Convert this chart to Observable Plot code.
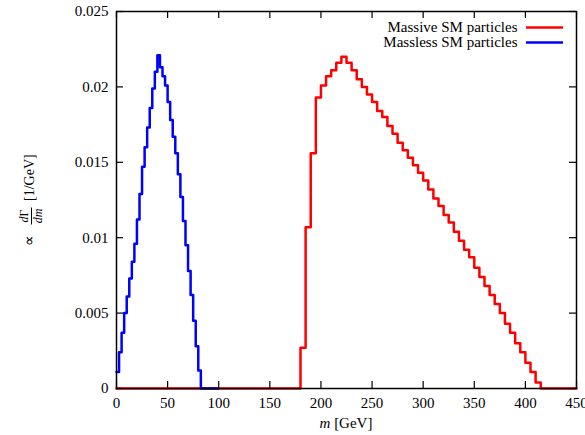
<!DOCTYPE html>
<html><head><meta charset="utf-8">
<script src="https://cdn.jsdelivr.net/npm/d3@7"></script>
<script src="https://cdn.jsdelivr.net/npm/@observablehq/plot@0.6"></script>
<style>
body{margin:0;background:#fff}
#chart svg text, #chart svg tspan { font-family: "Liberation Serif", "Times New Roman", serif !important; }
</style>
</head><body><div id="chart"></div>
<script>
const seriesNames = ["Massive SM particles", "Massless SM particles"];
const seriesColors = ["#ff0000", "#0000ff"];

// Massive SM particles: 5 GeV bins starting at 180 GeV
const massiveStart = 180, massiveBinWidth = 5;
const massiveValues = [
  0.0027, 0.0107, 0.0156, 0.0193, 0.0201, 0.0207, 0.0211, 0.0216, 0.0220, 0.0216,
  0.0211, 0.0205, 0.0200, 0.0195, 0.0190, 0.0184, 0.0180, 0.0174, 0.0169, 0.0163,
  0.0158, 0.0153, 0.0148, 0.0143, 0.0138, 0.0132, 0.0126, 0.0121, 0.0115, 0.0110,
  0.0104, 0.0098, 0.0092, 0.0087, 0.0080, 0.0074, 0.0068, 0.0062, 0.0056, 0.0050,
  0.0043, 0.0037, 0.0030, 0.0024, 0.0017, 0.0011, 0.0004
];
const massiveRange = [0, 450];

// Massless SM particles: 2.5 GeV bins starting at 0 GeV
const masslessStart = 0, masslessBinWidth = 2.5;
const masslessValues = [
  0.0011, 0.0024, 0.0037, 0.0050, 0.0061, 0.0073, 0.0084, 0.0096, 0.0112, 0.0129,
  0.0147, 0.0160, 0.0173, 0.0186, 0.0199, 0.0210, 0.0221, 0.0213, 0.0207, 0.0201,
  0.0190, 0.0178, 0.0167, 0.0156, 0.0142, 0.0127, 0.0111, 0.0095, 0.0078, 0.0062,
  0.0045, 0.0028, 0.0012
];
const masslessRange = [0, 100];

const xTicks = [0, 50, 100, 150, 200, 250, 300, 350, 400, 450];
const yTicks = [0, 0.005, 0.01, 0.015, 0.02, 0.025];
const yTickLabels = ["0", "0.005", "0.01", "0.015", "0.02", "0.025"];

function steps(start, w, values, range) {
  const pts = [];
  if (range[0] < start) pts.push({x: range[0], y: 0});
  values.forEach((v, i) => pts.push({x: start + i * w, y: v}));
  pts.push({x: start + values.length * w, y: 0});
  pts.push({x: range[1], y: 0});
  return pts;
}
const massivePts = steps(massiveStart, massiveBinWidth, massiveValues, massiveRange);
const masslessPts = steps(masslessStart, masslessBinWidth, masslessValues, masslessRange);

const W = 585, H = 435, mL = 116, mR = 9, mT = 11, mB = 47;
const innerW = W - mL - mR, innerH = H - mT - mB, tickLen = 7;
const font = "Liberation Serif, Times New Roman, serif";

const plot = Plot.plot({
  width: W, height: H,
  marginLeft: mL, marginRight: mR, marginTop: mT, marginBottom: mB,
  style: {fontFamily: font, fontSize: "15px", color: "#000", background: "#fff"},
  x: {domain: [0, 450]},
  y: {domain: [0, 0.025]},
  marks: [
    Plot.line(massivePts, {x: "x", y: "y", curve: "step-after", stroke: seriesColors[0], strokeWidth: 2.5}),
    Plot.line(masslessPts, {x: "x", y: "y", curve: "step-after", stroke: seriesColors[1], strokeWidth: 2.5}),
    Plot.frame({stroke: "#000", strokeWidth: 1.5}),
    Plot.axisX({ticks: xTicks, tickSize: 0, tickPadding: 9, label: null, fontFamily: font, fontSize: 15,
                tickFormat: d => String(d)}),
    Plot.axisY({ticks: yTicks, tickSize: 0, tickPadding: 8, label: null, fontFamily: font, fontSize: 15,
                tickFormat: d => yTickLabels[yTicks.indexOf(d)]}),
    Plot.tickX(xTicks, {x: d => d, insetTop: innerH - tickLen, stroke: "#000", strokeWidth: 1.2}),
    Plot.tickX(xTicks, {x: d => d, insetBottom: innerH - tickLen, stroke: "#000", strokeWidth: 1.2}),
    Plot.tickY(yTicks, {y: d => d, insetRight: innerW - tickLen, stroke: "#000", strokeWidth: 1.2}),
    Plot.tickY(yTicks, {y: d => d, insetLeft: innerW - tickLen, stroke: "#000", strokeWidth: 1.2}),
    ...seriesNames.map((name, i) => Plot.text([name], {
      frameAnchor: "top-right", textAnchor: "end", lineAnchor: "middle",
      dx: -59, dy: 16 + 15 * i, fill: "#000", fontSize: 15, fontFamily: font
    })),
    ...seriesNames.map((name, i) => Plot.ruleY([0.025], {
      dy: 16 + 15 * i, insetLeft: 410, insetRight: 13,
      stroke: seriesColors[i], strokeWidth: 2.5
    }))
  ]
});

const svg = d3.select(plot);
// x-axis label
const xl = svg.append("text")
  .attr("x", 346).attr("y", 428).attr("text-anchor", "middle")
  .style("font-size", "15px").attr("fill", "#000");
xl.append("tspan").style("font-style", "italic").text("m");
xl.append("tspan").text(" [GeV]");

// y-axis label (rotated): ∝ dΓ/dm [1/GeV]
const g = svg.append("g").attr("transform", "translate(34,248) rotate(-90)")
  .attr("fill", "#000").attr("text-anchor", "start");
g.append("text").attr("x", 2).attr("y", 0).attr("text-anchor", "start").style("font-size", "15px").text("∝");
const num = g.append("text").attr("x", 32).attr("y", -6).attr("text-anchor", "middle").style("font-size", "12px");
num.append("tspan").style("font-style", "italic").text("d");
num.append("tspan").text("Γ");
const den = g.append("text").attr("x", 32).attr("y", 8).attr("text-anchor", "middle").style("font-size", "12px");
den.append("tspan").style("font-style", "italic").text("dm");
g.append("line").attr("x1", 23.5).attr("x2", 40.5).attr("y1", -2.5).attr("y2", -2.5)
  .attr("stroke", "#000").attr("stroke-width", 1);
g.append("text").attr("x", 47).attr("y", 0).attr("text-anchor", "start").style("font-size", "14px").text("[1/GeV]");

document.getElementById("chart").appendChild(plot);
</script>
</body></html>
